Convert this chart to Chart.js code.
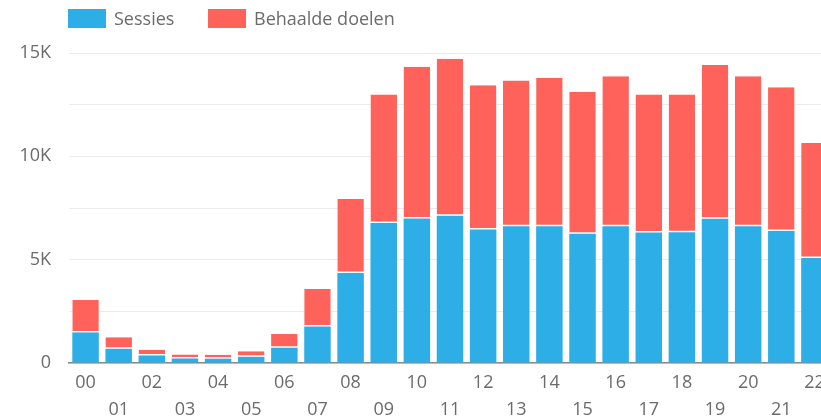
<!DOCTYPE html>
<html>
<head>
<meta charset="utf-8">
<script src="https://cdn.jsdelivr.net/npm/chart.js@4/dist/chart.umd.min.js"></script>
<style>
  html, body { margin: 0; padding: 0; background: #fff; overflow: hidden; }
  #wrap { position: relative; width: 821px; height: 417px; overflow: hidden; }
  #box { position: absolute; left: 0; top: 0; width: 831px; height: 417px; }
  .legend { position: absolute; top: 0; left: 0; font-family: "Open Sans", sans-serif; font-size: 18px; color: #6b6b6b; }
  .item { position: absolute; top: 9px; height: 19px; line-height: 19px; white-space: nowrap; }
  .swatch { position: absolute; top: 0; width: 38px; height: 19px; }
</style>
</head>
<body>
<div id="wrap">
  <div id="box"><canvas id="chart"></canvas></div>
  <div class="legend" id="legend"></div>
</div>
<script>
/* ===== Sessies per uur ===== */

const hours   = ['00','01','02','03','04','05','06','07','08','09','10','11',
                 '12','13','14','15','16','17','18','19','20','21','22'];
const sessies = [1480, 690, 365, 220, 210, 300, 740, 1770, 4350, 6770, 6990, 7120,
                 6460, 6620, 6620, 6250, 6620, 6315, 6330, 6975, 6620, 6390, 5080];
const doelen  = [1565, 550, 275, 195, 190, 270, 660, 1810, 3580, 6220, 7350, 7600,
                 6985, 7045, 7180, 6870, 7260, 6675, 6660, 7440, 7260, 6955, 5565];
const yTicks  = [0, 5000, 10000, 15000];

const BLUE = '#2eaee6';
const RED  = '#fe625a';
const TEXT = '#6b6b6b';

// html legend
const legendItems = [
  { label: 'Sessies',         color: BLUE, x: 68 },
  { label: 'Behaalde doelen', color: RED,  x: 208 }
];
document.getElementById('legend').innerHTML = legendItems.map(it =>
  `<div class="item" style="left:${it.x}px"><span class="swatch" style="background:${it.color}"></span>` +
  `<span style="margin-left:46px">${it.label}</span></div>`
).join('');

// staggered hour labels: even on first row, odd on second
const xLabels = hours.map((h, i) => i % 2 === 0 ? [h, ''] : ['', h]);

const ctx = document.getElementById('chart').getContext('2d');
new Chart(ctx, {
  type: 'bar',
  data: {
    labels: xLabels,
    datasets: [
      {
        label: 'Sessies',
        data: sessies,
        backgroundColor: BLUE,
        borderWidth: 0
      },
      {
        label: 'Behaalde doelen',
        data: doelen,
        backgroundColor: RED,
        borderColor: '#ffffff',
        borderWidth: { top: 0, left: 0, right: 0, bottom: 1.5 },
        borderSkipped: false
      }
    ]
  },
  options: {
    responsive: true,
    maintainAspectRatio: false,
    animation: false,
    layout: { padding: { top: 53, left: 0, right: 0, bottom: 0 } },
    plugins: {
      legend: { display: false },
      tooltip: { enabled: false }
    },
    datasets: { bar: { categoryPercentage: 0.8, barPercentage: 1 } },
    scales: {
      x: {
        stacked: true,
        grid: { display: false, drawTicks: false },
        border: { display: true, color: '#8a8a8a', width: 1.5 },
        ticks: {
          color: TEXT,
          font: { family: 'Open Sans', size: 18, lineHeight: 1.5 },
          padding: 6,
          autoSkip: false,
          maxRotation: 0
        },
        afterFit: s => { s.height = 54; }
      },
      y: {
        stacked: true,
        min: 0,
        max: 15000,
        grid: { color: '#ebebeb', lineWidth: 1, drawTicks: false },
        border: { display: false },
        ticks: {
          stepSize: 2500,
          color: TEXT,
          font: { family: 'Open Sans', size: 18 },
          padding: 18,
          callback: v => yTicks.includes(v) ? (v === 0 ? '0' : (v / 1000) + 'K') : ''
        },
        afterFit: s => { s.width = 69; }
      }
    }
  }
});
</script>
</body>
</html>
